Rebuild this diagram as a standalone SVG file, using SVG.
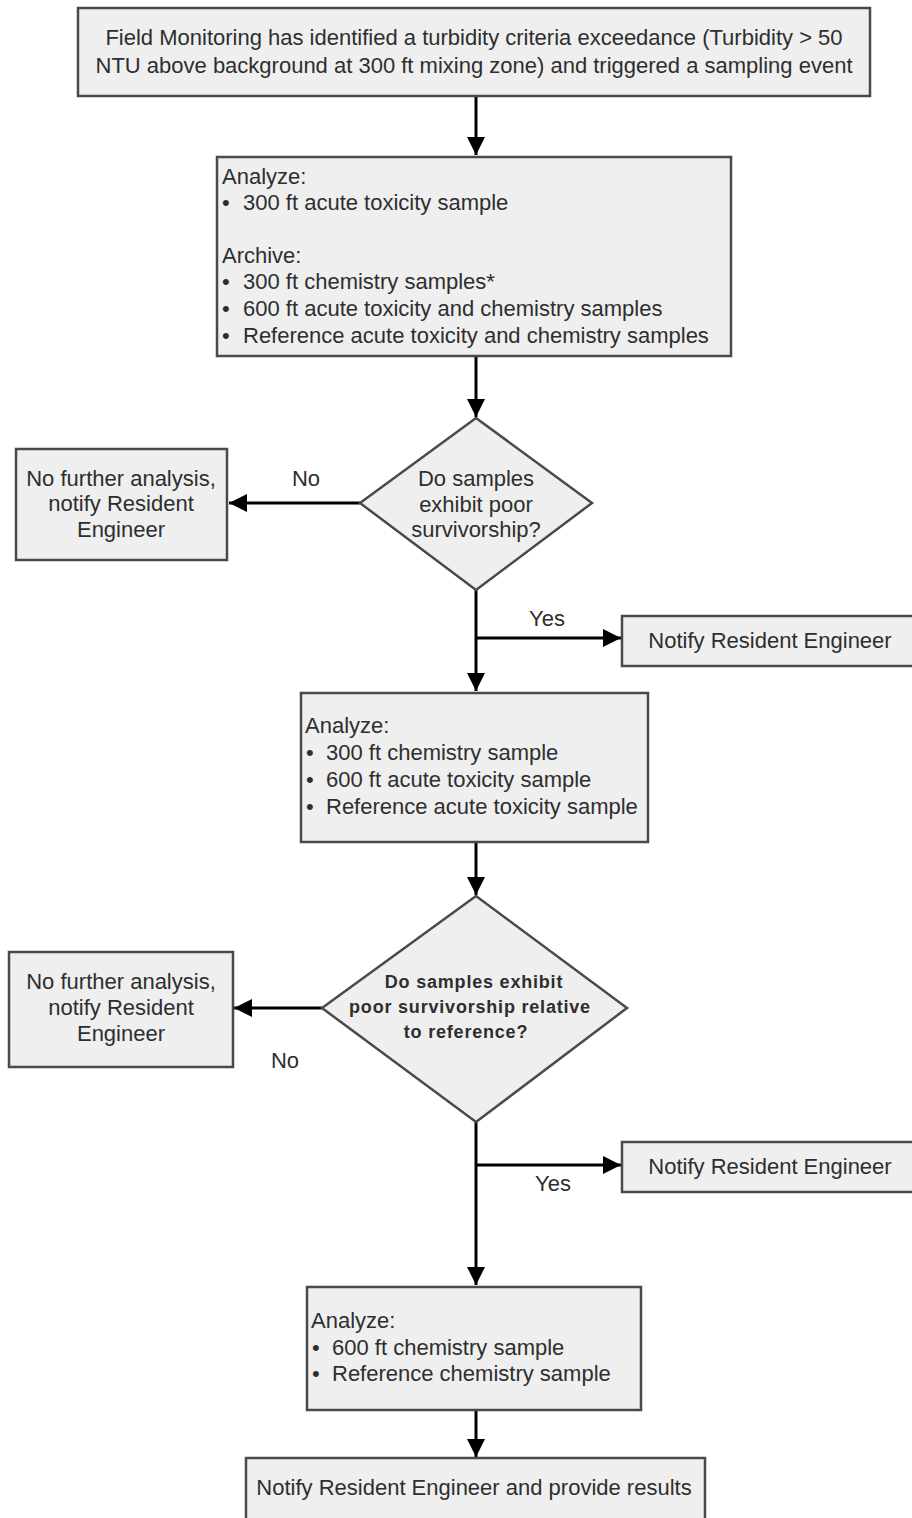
<svg xmlns="http://www.w3.org/2000/svg" width="912" height="1518" viewBox="0 0 912 1518">
<style>
.box{fill:#efefef;stroke:#4a4a4a;stroke-width:2.5}
.t{font-family:"Liberation Sans",Arial,sans-serif;font-size:22px;fill:#2e2e2e}
.c{text-anchor:middle}
.b{font-family:"Liberation Sans",Arial,sans-serif;font-size:18px;font-weight:bold;letter-spacing:0.8px;fill:#2e2e2e;text-anchor:middle}
.ln{stroke:#000;stroke-width:3;fill:none}
</style>
<defs>
<marker id="ah" viewBox="0 0 10 10" refX="10" refY="5" markerWidth="6.5" markerHeight="6" orient="auto" markerUnits="strokeWidth">
<path d="M0,0 L10,5 L0,10 z" fill="#000"/>
</marker>
</defs>
<rect width="912" height="1518" fill="#fff"/>
<g id="connectors">
<line class="ln" x1="476" y1="96" x2="476" y2="155" marker-end="url(#ah)"/>
<line class="ln" x1="476" y1="356" x2="476" y2="417" marker-end="url(#ah)"/>
<line class="ln" x1="360" y1="503" x2="229" y2="503" marker-end="url(#ah)"/>
<line class="ln" x1="476" y1="590" x2="476" y2="691" marker-end="url(#ah)"/>
<line class="ln" x1="476" y1="638" x2="621" y2="638" marker-end="url(#ah)"/>
<line class="ln" x1="476" y1="842" x2="476" y2="895" marker-end="url(#ah)"/>
<line class="ln" x1="322" y1="1008" x2="234" y2="1008" marker-end="url(#ah)"/>
<line class="ln" x1="476" y1="1122" x2="476" y2="1285" marker-end="url(#ah)"/>
<line class="ln" x1="476" y1="1165" x2="621" y2="1165" marker-end="url(#ah)"/>
<line class="ln" x1="476" y1="1410" x2="476" y2="1457" marker-end="url(#ah)"/>
<text class="t c" x="306" y="486">No</text>
<text class="t c" x="547" y="626">Yes</text>
<text class="t c" x="285" y="1068">No</text>
<text class="t c" x="553" y="1191">Yes</text>
</g>
<g id="start">
<rect class="box" x="78" y="8" width="792" height="88"/>
<text class="t c" x="474" y="45">Field Monitoring has identified a turbidity criteria exceedance (Turbidity &gt; 50</text>
<text class="t c" x="474" y="73">NTU above background at 300 ft mixing zone) and triggered a sampling event</text>
</g>
<g id="analyze1">
<rect class="box" x="217" y="157" width="514" height="199"/>
<text class="t" x="222" y="184">Analyze:</text>
<text class="t" x="222" y="210">•</text><text class="t" x="243" y="210">300 ft acute toxicity sample</text>
<text class="t" x="222" y="263">Archive:</text>
<text class="t" x="222" y="289">•</text><text class="t" x="243" y="289">300 ft chemistry samples*</text>
<text class="t" x="222" y="316">•</text><text class="t" x="243" y="316">600 ft acute toxicity and chemistry samples</text>
<text class="t" x="222" y="343">•</text><text class="t" x="243" y="343">Reference acute toxicity and chemistry samples</text>
</g>
<g id="decision1">
<polygon class="box" points="476,418 592,503 476,590 360,503"/>
<text class="t c" x="476" y="486">Do samples</text>
<text class="t c" x="476" y="512">exhibit poor</text>
<text class="t c" x="476" y="537">survivorship?</text>
</g>
<g id="nofurther1">
<rect class="box" x="16" y="449" width="211" height="111"/>
<text class="t c" x="121" y="486">No further analysis,</text>
<text class="t c" x="121" y="511">notify Resident</text>
<text class="t c" x="121" y="537">Engineer</text>
</g>
<g id="notify1">
<rect class="box" x="622" y="616" width="300" height="50"/>
<text class="t c" x="770" y="648">Notify Resident Engineer</text>
</g>
<g id="analyze2">
<rect class="box" x="301" y="693" width="347" height="149"/>
<text class="t" x="305" y="733">Analyze:</text>
<text class="t" x="306" y="760">•</text><text class="t" x="326" y="760">300 ft chemistry sample</text>
<text class="t" x="306" y="787">•</text><text class="t" x="326" y="787">600 ft acute toxicity sample</text>
<text class="t" x="306" y="814">•</text><text class="t" x="326" y="814">Reference acute toxicity sample</text>
</g>
<g id="decision2">
<polygon class="box" points="476,896 627,1008 476,1122 322,1008"/>
<text class="b" x="474" y="988">Do samples exhibit</text>
<text class="b" x="470" y="1013">poor survivorship relative</text>
<text class="b" x="466" y="1038">to reference?</text>
</g>
<g id="nofurther2">
<rect class="box" x="9" y="952" width="224" height="115"/>
<text class="t c" x="121" y="989">No further analysis,</text>
<text class="t c" x="121" y="1015">notify Resident</text>
<text class="t c" x="121" y="1041">Engineer</text>
</g>
<g id="notify2">
<rect class="box" x="622" y="1142" width="300" height="50"/>
<text class="t c" x="770" y="1174">Notify Resident Engineer</text>
</g>
<g id="analyze3">
<rect class="box" x="307" y="1287" width="334" height="123"/>
<text class="t" x="311" y="1328">Analyze:</text>
<text class="t" x="312" y="1355">•</text><text class="t" x="332" y="1355">600 ft chemistry sample</text>
<text class="t" x="312" y="1381">•</text><text class="t" x="332" y="1381">Reference chemistry sample</text>
</g>
<g id="final">
<rect class="box" x="246" y="1458" width="459" height="80"/>
<text class="t c" x="474" y="1495">Notify Resident Engineer and provide results</text>
</g>
</svg>
